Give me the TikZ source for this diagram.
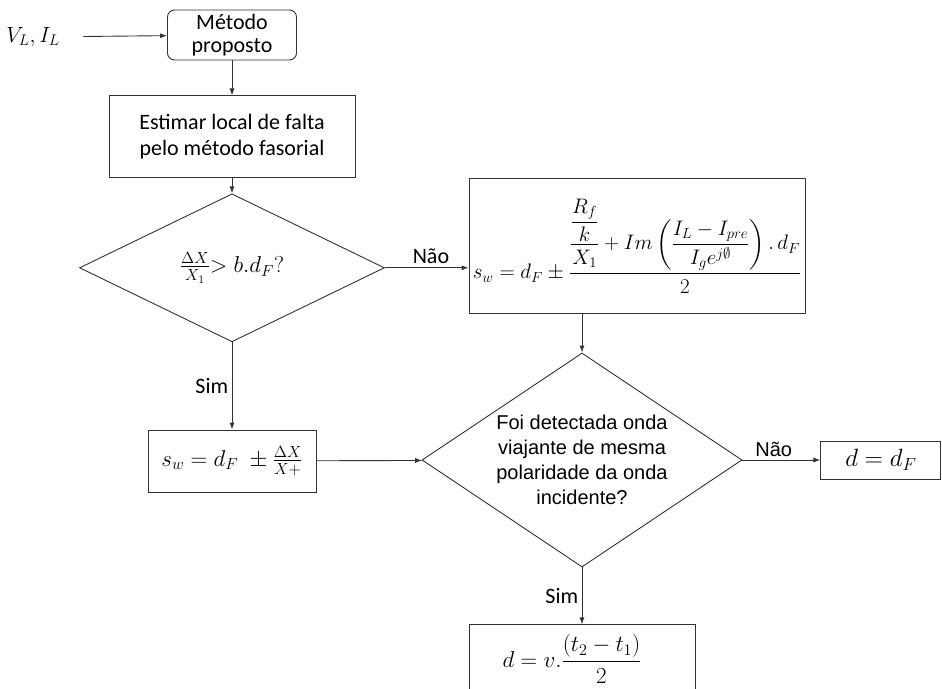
\RequirePackage{fix-cm}
\documentclass[tikz,border=0pt]{standalone}
\usepackage{amsmath,amssymb}
\usepackage{fontspec}
\setmainfont{Carlito}
\newfontfamily\robfont{Liberation Sans}
\usetikzlibrary{arrows.meta,shapes.geometric,positioning}

\begin{document}
\begin{tikzpicture}[x=1pt,y=-1pt,>={Latex[length=7pt,width=5pt]},line width=0.9pt,
        txt/.style={font=\fontsize{22}{26}\selectfont},
        mth/.style={font=\fontsize{23}{26}\selectfont},
        line/.style={draw=black!80},
        startbox/.style={rectangle,rounded corners=7pt,draw=black!80,align=center,inner sep=0pt,
                minimum width=129pt,minimum height=50pt,font=\fontsize{22}{23}\selectfont},
        procbox/.style={rectangle,draw=black!80,align=center,inner sep=0pt},
        decbox/.style={diamond,draw=black!80,align=center,inner sep=0pt,aspect=1.5}]
        \useasboundingbox (0,0) rectangle (942,688);

        \node[startbox] (metodo) at (232,35) {Método\\proposto};
        \node[font=\fontsize{22}{26}\selectfont] (entrada) at (33,37) {$V_L, I_L$};
        \node[procbox,txt,below=35pt of metodo,minimum width=246pt,minimum height=82pt] (estimar)
                {Estimar local de falta\\pelo método fasorial};
        \node[decbox,mth,below=15pt of estimar,minimum width=305pt,minimum height=148pt] (dec1)
                {$\frac{\Delta X}{X_1}{>}\;b.d_F?$};
        \node[procbox,font=\fontsize{21}{25}\selectfont,minimum width=336pt,minimum height=135pt] (formula) at (637,246)
                {$s_w = d_F \pm \dfrac{\dfrac{\dfrac{R_f}{k}}{X_1} + Im\left(\dfrac{I_L - I_{pre}}{I_g e^{j\emptyset}}\right).\,d_F}{2}$};
        \node[procbox,mth,minimum width=168pt,minimum height=62pt] (sw) at (232,461)
                {$s_w = d_F\;\pm\frac{\Delta X}{X+}$};
        \node[decbox,font=\robfont\fontsize{20}{25}\selectfont,minimum width=320pt,minimum height=214pt] (dec2) at (582,460)
                {Foi detectada onda\\viajante de mesma\\polaridade da onda\\incidente?};
        \node[procbox,font=\fontsize{25}{28}\selectfont,right=78pt of dec2,minimum width=120pt,minimum height=38pt] (dF) {$d = d_F$};
        \node[procbox,mth,below=57pt of dec2,minimum width=226pt,minimum height=68pt] (final)
                {$d = v.\dfrac{(t_2 - t_1)}{2}$\hspace{20pt}};

        \draw[line,->,shorten <=20pt] (entrada) -- (metodo);
        \draw[line,->] (metodo) -- (estimar);
        \draw[line,->] (estimar) -- (dec1);
        \draw[line,->] (dec1.east) -- node[txt,above,pos=0.55] {Não} (dec1.east -| formula.west);
        \draw[line,->] (dec1) -- node[txt,left] {Sim} (sw);
        \draw[line,->] (formula.south -| dec2.north) -- (dec2.north);
        \draw[line,->] (sw) -- (dec2);
        \draw[line,->] (dec2) -- node[above,pos=0.4,font=\robfont\fontsize{20}{24}\selectfont] {Não} (dF);
        \draw[line,->] (dec2) -- node[txt,left] {Sim} (final);
\end{tikzpicture}
\end{document}
